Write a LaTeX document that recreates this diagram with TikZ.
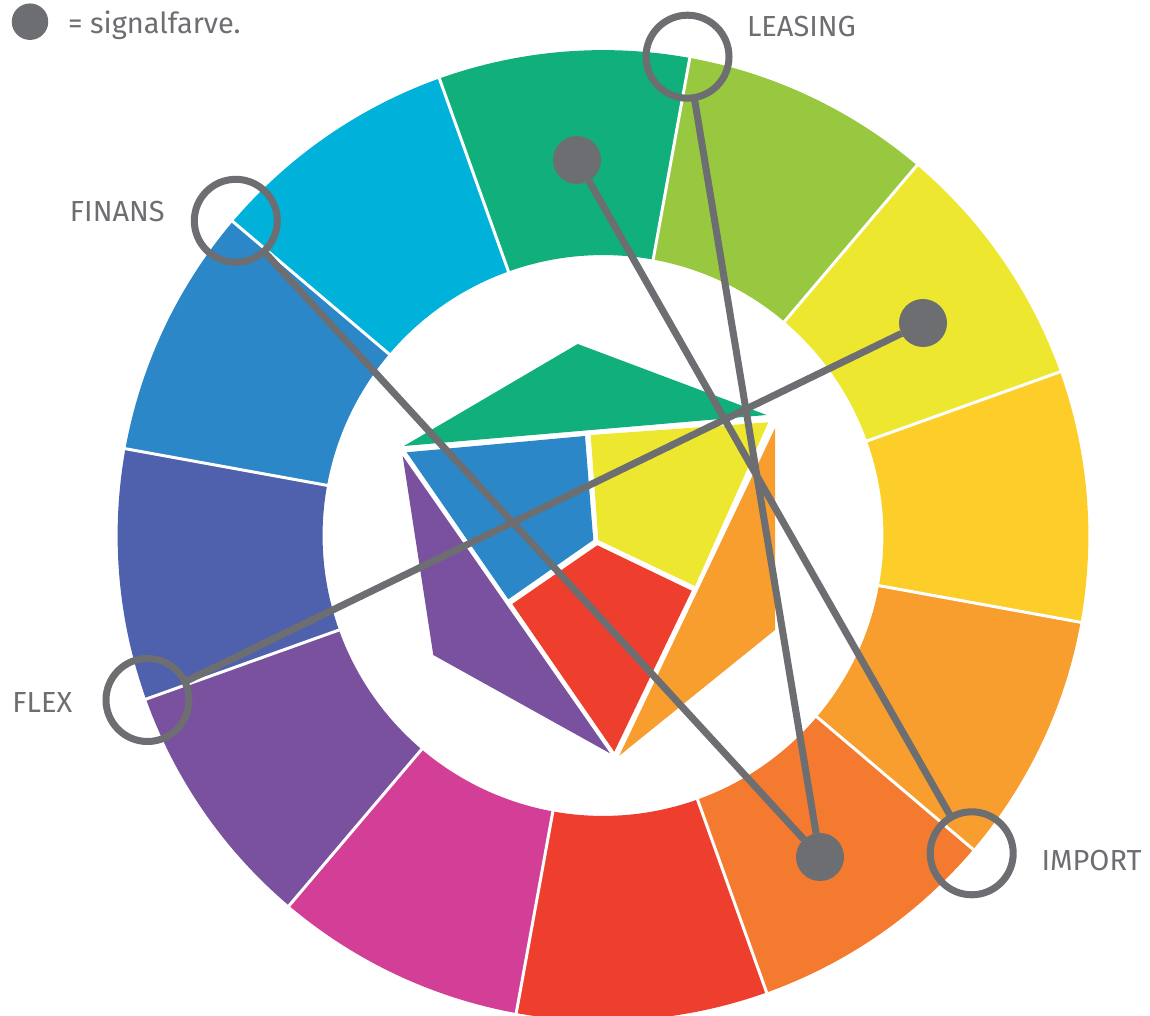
\documentclass[tikz,border=0pt]{standalone}
\usepackage{fontspec}
\setmainfont{Fira Sans}
\definecolor{signal}{HTML}{6D6E71}
\definecolor{wheelYO}{HTML}{FDCE2A}
\definecolor{wheelY}{HTML}{EDE72F}
\definecolor{wheelYG}{HTML}{97C83F}
\definecolor{wheelG}{HTML}{10AF7B}
\definecolor{wheelC}{HTML}{00B2D9}
\definecolor{wheelB}{HTML}{2B87C7}
\definecolor{wheelI}{HTML}{4F60AC}
\definecolor{wheelP}{HTML}{79519F}
\definecolor{wheelM}{HTML}{D33E96}
\definecolor{wheelR}{HTML}{EE3E2E}
\definecolor{wheelRO}{HTML}{F37A2F}
\definecolor{wheelO}{HTML}{F79E2E}
\begin{document}
\begin{tikzpicture}
  [x=0.02cm,y=-0.02cm,every node/.style={inner sep=0pt,outer sep=0pt},
   signaldot/.style={circle,fill=signal,minimum size=0.96cm},
   ring/.style={circle,draw=signal,line width=4pt,minimum size=1.66cm},
   lbl/.style={text=signal,font=\fontsize{16.5}{20}\selectfont,anchor=base west}]
  \useasboundingbox (0,0) rectangle (1150,1016);
  \clip (0,0) rectangle (1150,1016);

  % colour wheel
  \begin{scope}[shift={(603,535.5)}]
    \foreach \c [count=\i from 0] in {wheelYO,wheelY,wheelYG,wheelG,wheelC,wheelB,wheelI,wheelP,wheelM,wheelR,wheelRO,wheelO}{
      \pgfmathsetmacro\a{-10.3+30*\i}
      \pgfmathsetmacro\b{\a+30}
      \fill[\c] (\a:9.71cm) arc[start angle=\a,end angle=\b,radius=9.71cm]
        -- (\b:5.61cm) arc[start angle=\b,end angle=\a,radius=5.61cm] -- cycle;
    }
    \foreach \a in {19.7,49.7,...,349.7}
      \draw[white,line width=1.7pt] (\a:5.4cm) -- (\a:9.9cm);
  \end{scope}

  % inner pieces
  \fill[wheelG] (404,446) -- (577.7,344) -- (766.7,415) -- cycle;
  \fill[wheelB] (406.7,452.3) -- (585,436) -- (593.3,540) -- (508.3,599.3) -- cycle;
  \fill[wheelY] (590.7,435) -- (768.3,422.3) -- (695,586) -- (598.3,540) -- cycle;
  \fill[wheelO] (775,428.3) -- (775,630) -- (619.3,755.7) -- cycle;
  \fill[wheelR] (597.3,545.3) -- (691.7,590.7) -- (614.3,751.7) -- (512.3,604) -- cycle;
  \fill[wheelP] (402.7,456) -- (433.3,655) -- (610,753.3) -- cycle;

  \node[signaldot] (dotGreen) at (577,160) {};
  \node[signaldot] (dotYellow) at (923,323) {};
  \node[signaldot] (dotOrange) at (820,857) {};
  \node[ring] (leasing) at (687.5,56.7) {};
  \node[ring] (finans) at (235.8,220.8) {};
  \node[ring] (flex) at (147.5,700) {};
  \node[ring] (import) at (971.7,853.3) {};

  \foreach \from/\to in {dotGreen/import,dotYellow/flex,dotOrange/finans,dotOrange/leasing}
    \draw[signal,line width=4pt] (\from) -- (\to);

  \node[lbl] (leasingTxt) at (747,36.7) {LEASING};
  \node[lbl] (finansTxt) at (70,221.7) {FINANS};
  \node[lbl] (flexTxt) at (12.5,712.7) {FLEX};
  \node[lbl] (importTxt) at (1041.5,870) {IMPORT};

  % legend
  \node[signaldot,minimum size=0.73cm] (legendDot) at (30,21.7) {};
  \node[lbl] (legendTxt) at (68,33.3) {= signalfarve.};

\end{tikzpicture}
\end{document}
